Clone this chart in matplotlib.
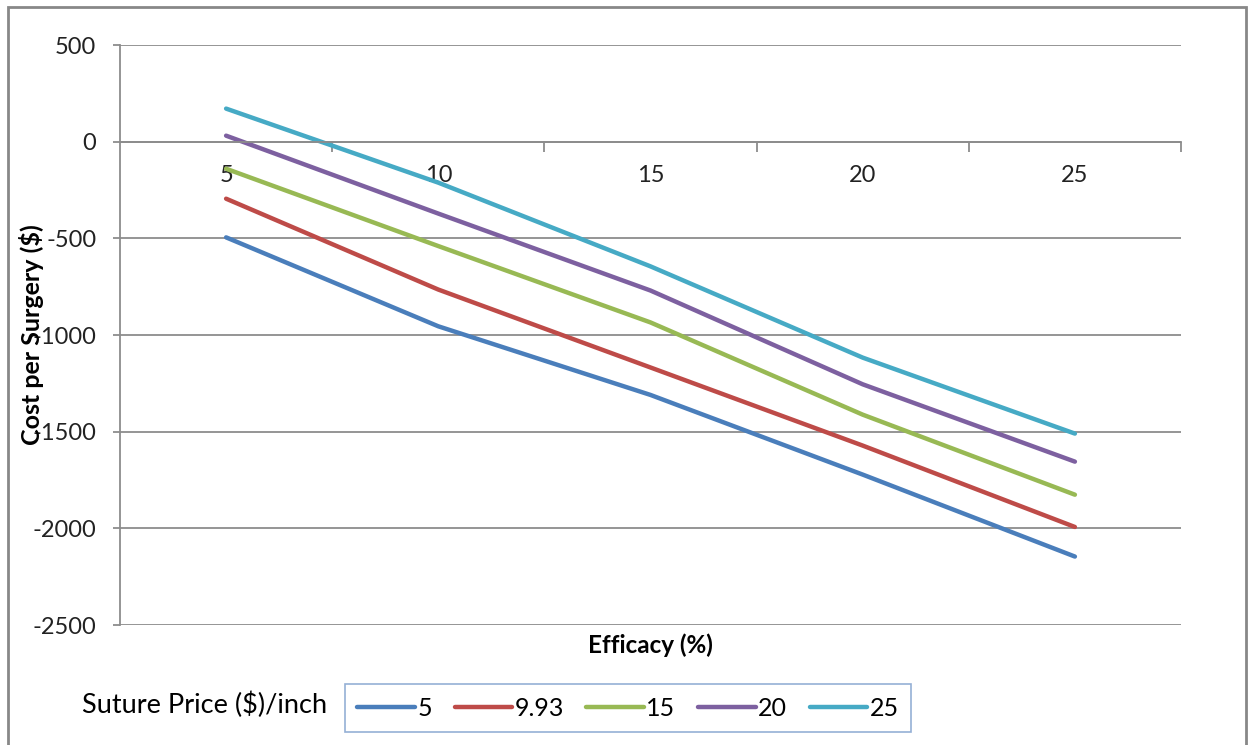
import matplotlib.pyplot as plt
import numpy as np
from matplotlib.patches import Rectangle

plt.rcParams['font.family'] = ['Lato', 'DejaVu Sans']
plt.rcParams['axes.unicode_minus'] = False

# Efficacy categories and cost per surgery for each suture price
efficacy = ['5', '10', '15', '20', '25']
price_labels = ['5', '9.93', '15', '20', '25']
cost_5 = [-495, -955, -1310, -1722, -2146]
cost_993 = [-295, -765, -1168, -1572, -1993]
cost_15 = [-140, -540, -935, -1412, -1826]
cost_20 = [31, -372, -770, -1255, -1655]
cost_25 = [171, -212, -645, -1117, -1510]
series = [cost_5, cost_993, cost_15, cost_20, cost_25]
colors = ['#4A7EBB', '#BE4B48', '#98B954', '#7D60A0', '#46AAC5']

grid_c = '#8c8c8c'

fig = plt.figure(figsize=(12.52, 7.45), dpi=100)
ax = fig.add_axes([120 / 1252, 1 - 625 / 745, (1181 - 120) / 1252, (625 - 45) / 745])

x = np.arange(len(efficacy))
for vals, lab, c in zip(series, price_labels, colors):
    ax.plot(x, vals, color=c, lw=3.2, label=lab, solid_capstyle='round',
            solid_joinstyle='round')

ax.set_xlim(-0.5, len(efficacy) - 0.5)
ax.set_ylim(-2500, 500)
ax.set_yticks(np.arange(-2500, 501, 500))
ax.yaxis.grid(True, color=grid_c, lw=1.3)
ax.set_axisbelow(True)

# category axis crosses at zero
ax.spines['bottom'].set_position(('data', 0))
ax.spines['bottom'].set_color(grid_c)
ax.spines['bottom'].set_linewidth(1.3)
ax.spines['left'].set_color(grid_c)
ax.spines['left'].set_linewidth(1.3)
ax.spines['top'].set_visible(False)
ax.spines['right'].set_visible(False)

ax.set_xticks(x)
ax.set_xticklabels(efficacy)
ax.set_xticks(np.arange(0.5, len(efficacy), 1), minor=True)
ax.tick_params(axis='x', which='major', length=0, pad=17, labelsize=17, labelcolor='#222222')
ax.tick_params(axis='x', which='minor', length=7, width=1.3, color=grid_c, direction='out')
ax.tick_params(axis='y', length=5, width=1.3, color=grid_c, pad=12, labelsize=17,
               labelcolor='#222222')

fig.text(32 / 1252, 1 - 335 / 745, 'Cost per Surgery ($)', rotation=90, ha='center',
         va='center', fontsize=18, fontweight='bold')
fig.text(650 / 1252, 1 - 645 / 745, 'Efficacy (%)', ha='center', va='center',
         fontsize=17.5, fontweight='bold')

fig.text(82 / 1252, 1 - 705 / 745, 'Suture Price ($)/inch', ha='left', va='center',
         fontsize=19.5)
leg = fig.legend(loc='center', bbox_to_anchor=(628 / 1252, 1 - 708 / 745), ncol=5,
                 fontsize=18, frameon=True, fancybox=False, handlelength=2.3,
                 handletextpad=0.1, columnspacing=0.9, borderpad=0.5,
                 borderaxespad=0)
leg.get_frame().set_edgecolor('#7A9CCB')
leg.get_frame().set_linewidth(1.2)

# chart area border
fig.patches.append(Rectangle((8 / 1252, -0.05), (1246 - 8) / 1252, 1.05 - 7 / 745,
                             transform=fig.transFigure, fill=False, edgecolor='#888888',
                             lw=2))

fig.savefig('out.png', dpi=100)
